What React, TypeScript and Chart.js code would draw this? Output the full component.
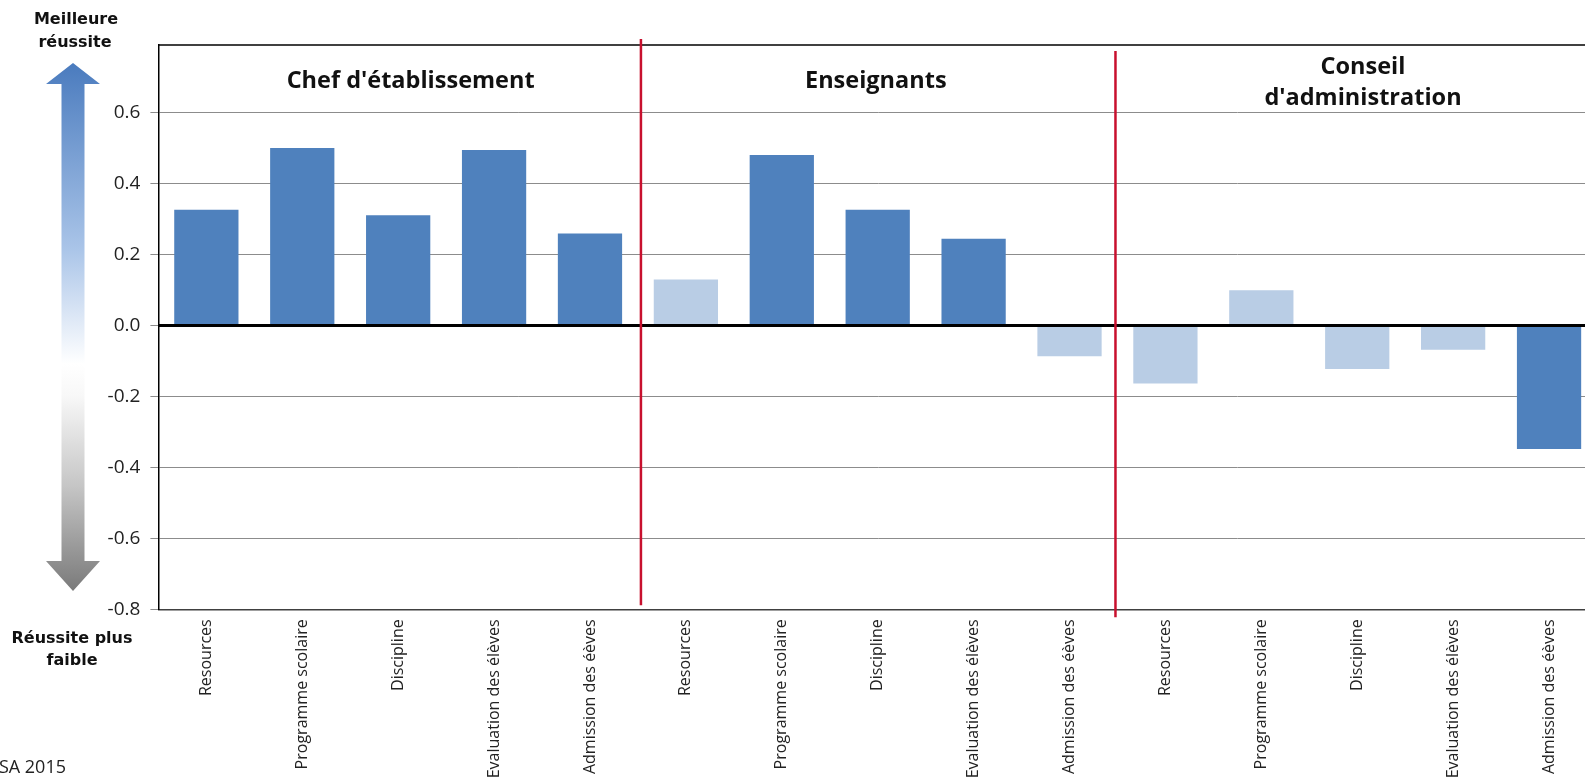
import React, { useEffect, useRef } from "react";
import { Chart, registerables } from "chart.js";

Chart.register(...registerables);

const categories = [
  "Resources", "Programme scolaire", "Discipline", "Evaluation des élèves", "Admission des éèves",
  "Resources", "Programme scolaire", "Discipline", "Evaluation des élèves", "Admission des éèves",
  "Resources", "Programme scolaire", "Discipline", "Evaluation des élèves", "Admission des éèves",
];
const values = [
  0.326, 0.500, 0.310, 0.494, 0.259,
  0.129, 0.480, 0.326, 0.244, -0.087,
  -0.164, 0.099, -0.123, -0.069, -0.348,
];
const significant = [
  true, true, true, true, true,
  false, true, true, true, false,
  false, false, false, false, true,
];
const groupTitles = [["Chef d'établissement"], ["Enseignants"], ["Conseil", "d'administration"]];
const groupCenters = [2.13, 6.98, 12.06];
const separators = [4.5, 9.5];
const yTicks = [-0.8, -0.6, -0.4, -0.2, 0, 0.2, 0.4, 0.6];
const topLabel = ["Meilleure", "réussite"];
const bottomLabel = ["Réussite plus", "faible"];
const sourceText = "PISA 2015";

const DARK = "#4F81BD";
const LIGHT = "#B9CDE5";
const TEXT = "#222222";

export default function App() {
  const ref = useRef<HTMLCanvasElement>(null);

  useEffect(() => {
    document.body.style.margin = "0";
    const canvas = ref.current!;

    const decor = {
      id: "decor",
      beforeDraw(chart: any) {
        const ctx = chart.ctx;
        ctx.save();
        ctx.fillStyle = "#fff";
        ctx.fillRect(0, 0, chart.width, chart.height);
        ctx.restore();
      },
      afterDatasetsDraw(chart: any) {
        const { ctx, chartArea: a, scales } = chart;
        const x = scales.x, y = scales.y;
        ctx.save();
        const y0 = y.getPixelForValue(0);
        ctx.strokeStyle = "#000";
        ctx.lineWidth = 3;
        ctx.beginPath();
        ctx.moveTo(a.left, y0);
        ctx.lineTo(a.right, y0);
        ctx.stroke();
        ctx.lineWidth = 1.5;
        ctx.beginPath();
        ctx.moveTo(a.left, a.top);
        ctx.lineTo(a.right, a.top);
        ctx.stroke();
        ctx.strokeStyle = "#C8102E";
        ctx.lineWidth = 2.5;
        const s1 = x.getPixelForValue(separators[0]) + 3;
        ctx.beginPath();
        ctx.moveTo(s1, a.top - 6);
        ctx.lineTo(s1, a.bottom - 4);
        ctx.stroke();
        const s2 = x.getPixelForValue(separators[1]) - 2;
        ctx.beginPath();
        ctx.moveTo(s2, a.top + 6);
        ctx.lineTo(s2, a.bottom + 8);
        ctx.stroke();
        ctx.restore();
      },
      afterDraw(chart: any) {
        const { ctx, scales } = chart;
        const x = scales.x;
        ctx.save();
        ctx.fillStyle = "#111";
        ctx.font = "bold 23.5px 'Open Sans'";
        ctx.textAlign = "center";
        ctx.textBaseline = "alphabetic";
        groupTitles.forEach((lines, i) => {
          const cx = x.getPixelForValue(groupCenters[i]);
          if (lines.length === 1) {
            ctx.fillText(lines[0], cx, 88);
          } else {
            ctx.fillText(lines[0], cx, 74);
            ctx.fillText(lines[1], cx, 105);
          }
        });

        const cx = 73;
        const top = 63, headTop = 84, headBot = 561, bot = 591;
        const hw = 27, sw = 11.5;
        const g = ctx.createLinearGradient(0, top, 0, bot);
        g.addColorStop(0, "#4A7BBE");
        g.addColorStop(0.35, "#A9C4E8");
        g.addColorStop(0.57, "#FFFFFF");
        g.addColorStop(0.63, "#F8F8F8");
        g.addColorStop(0.8, "#C6C6C6");
        g.addColorStop(1, "#7A7A7A");
        ctx.fillStyle = g;
        ctx.beginPath();
        ctx.moveTo(cx, top);
        ctx.lineTo(cx + hw, headTop);
        ctx.lineTo(cx + sw, headTop);
        ctx.lineTo(cx + sw, headBot);
        ctx.lineTo(cx + hw, headBot);
        ctx.lineTo(cx, bot);
        ctx.lineTo(cx - hw, headBot);
        ctx.lineTo(cx - sw, headBot);
        ctx.lineTo(cx - sw, headTop);
        ctx.lineTo(cx - hw, headTop);
        ctx.closePath();
        ctx.fill();

        ctx.fillStyle = "#111";
        ctx.font = "bold 16px 'DejaVu Sans'";
        ctx.textAlign = "center";
        ctx.fillText(topLabel[0], 76, 24);
        ctx.fillText(topLabel[1], 75, 47);
        ctx.fillText(bottomLabel[0], 72, 643);
        ctx.fillText(bottomLabel[1], 72, 665);

        ctx.font = "18px 'Open Sans'";
        ctx.fillStyle = TEXT;
        ctx.textAlign = "right";
        ctx.fillText(sourceText, 66, 773);
        ctx.restore();
      },
    };

    const chart = new Chart(canvas, {
      type: "bar",
      data: {
        labels: categories,
        datasets: [
          {
            data: values,
            backgroundColor: significant.map((s) => (s ? DARK : LIGHT)),
            borderWidth: 0,
            barPercentage: 0.67,
            categoryPercentage: 1,
          },
        ],
      },
      options: {
        responsive: false,
        animation: false,
        layout: { padding: { top: 45, left: 0, right: 0, bottom: 0 } },
        plugins: { legend: { display: false }, tooltip: { enabled: false } },
        scales: {
          x: {
            grid: { display: false, drawTicks: false },
            border: { display: true, color: "#404040", width: 1.5 },
            ticks: {
              minRotation: 90,
              maxRotation: 90,
              autoSkip: false,
              padding: 10,
              color: TEXT,
              font: { family: "'Open Sans'", size: 16 },
            },
            afterFit: (s: any) => {
              s.height = 170.7;
            },
          },
          y: {
            min: -0.8,
            max: 0.79,
            afterBuildTicks: (s: any) => {
              s.ticks = yTicks.map((v) => ({ value: v }));
            },
            ticks: {
              padding: 10,
              color: TEXT,
              font: { family: "'Open Sans'", size: 19 },
              callback: (v: any) => Number(v).toFixed(1),
            },
            grid: { color: "#8C8C8C", lineWidth: 1, tickLength: 8, drawTicks: true },
            border: { display: true, color: "#000", width: 1.5 },
            afterFit: (s: any) => {
              s.width = 158.4;
            },
          },
        },
      },
      plugins: [decor],
    });

    return () => chart.destroy();
  }, []);

  return (
    <div style={{ position: "fixed", left: 0, top: 0, width: 1585, height: 780, overflow: "hidden", background: "#fff" }}>
      <canvas ref={ref} width={1597} height={780} style={{ display: "block" }} />
    </div>
  );
}
